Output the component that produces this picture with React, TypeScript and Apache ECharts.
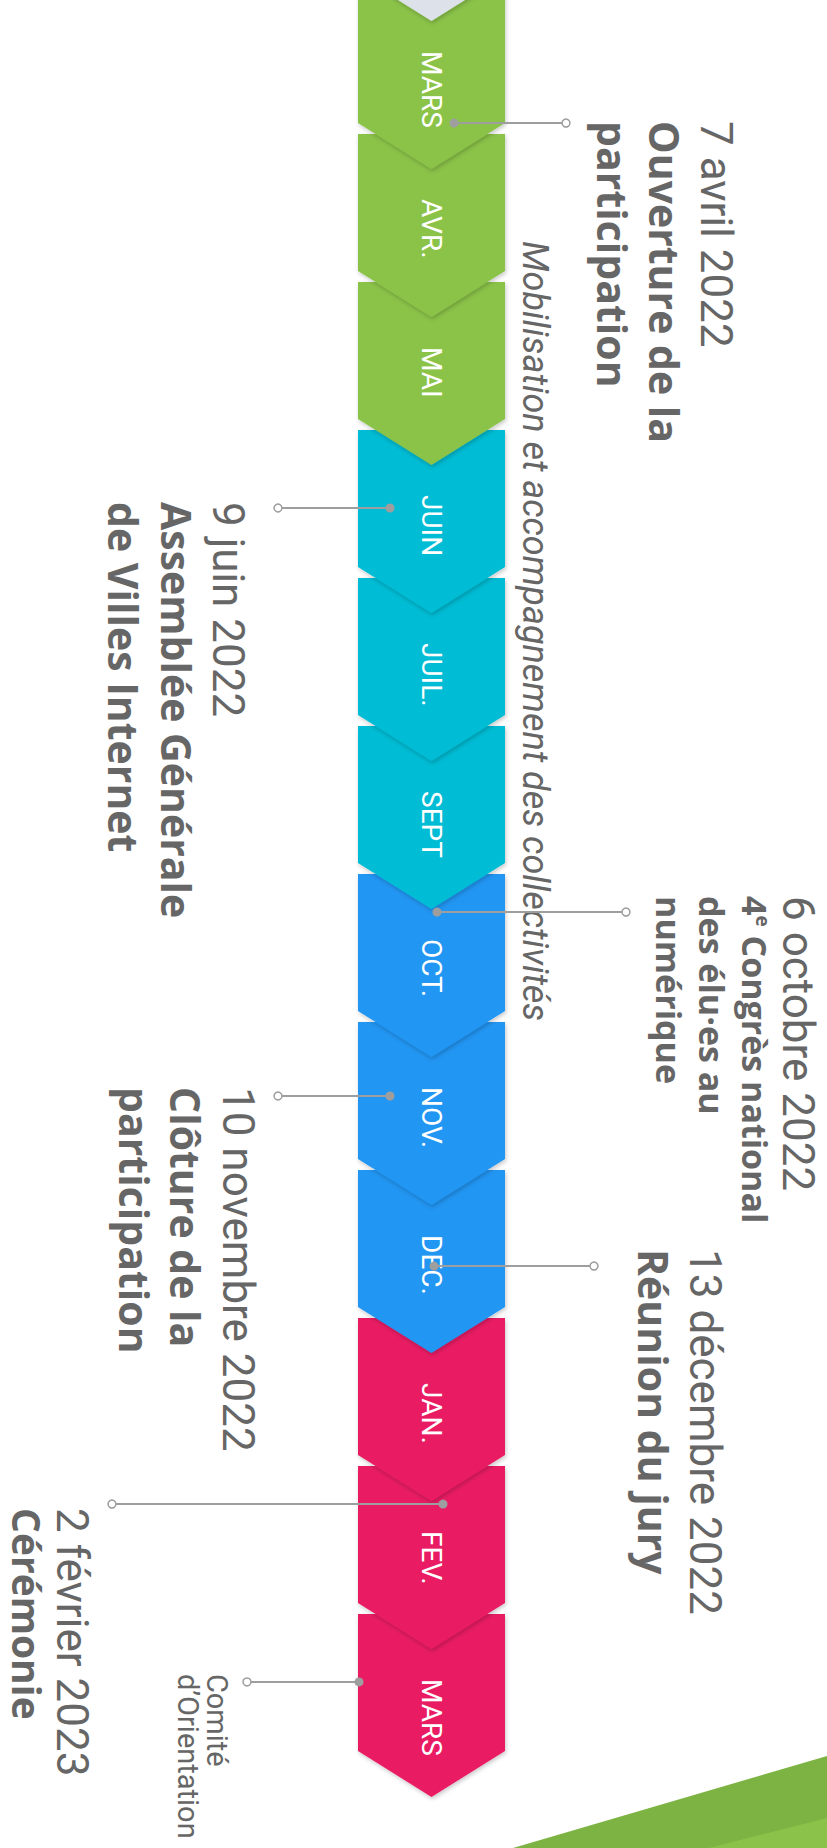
import React, { useEffect, useRef } from 'react';
import * as echarts from 'echarts';

// ---------- data ----------
const monthLabels = ['', 'MARS', 'AVR.', 'MAI', 'JUIN', 'JUIL.', 'SEPT', 'OCT.', 'NOV.', 'DEC.', 'JAN.', 'FEV.', 'MARS'];
const monthIndex = [-1, 0, 1, 2, 3, 4, 5, 6, 7, 8, 9, 10, 11];
const monthPhase = [0, 1, 1, 1, 2, 2, 2, 3, 3, 3, 4, 4, 4];
const phaseColors = ['#dde2ea', '#8bc34a', '#00bcd4', '#2196f3', '#e91e63'];

const eventDates = ['7 avril 2022', '9 juin 2022', '6 octobre 2022', '10 novembre 2022', '13 décembre 2022', '2 février 2023', ''];
const eventTitles = [
  ['Ouverture de la', 'participation'],
  ['Assemblée Générale', 'de Villes Internet'],
  ['{a|4}{s|e}{a| Congrès national}', 'des élu·es au', 'numérique'],
  ['Clôture de la', 'participation'],
  ['Réunion du jury'],
  ['Cérémonie'],
  ['Comité', 'd’Orientation'],
];
const eventMonthPos = [0.926, 3.527, 6.257, 7.5, 8.649, 10.257, 11.459];

const noteText = 'Mobilisation et accompagnement des collectivités';
const noteMonthPos = 1.723;

// ---------- layout ----------
const W = 827;
const H = 1848;
const MONTH_PX = 148;
const Y_MIN = 14 / MONTH_PX;
const Y_MAX = Y_MIN + H / MONTH_PX;
const TL_CENTER = 431.5;
const TL_HALF = 73.5;
const SIDE_END = 137 / MONTH_PX;
const APEX = 183 / MONTH_PX;
const LABEL_START = 65 / MONTH_PX;
const NOTE_X = 534.5;

const eventLayout = [
  { dotX: 454, endX: 566, dateX: 716, titleX: 665, gap: 52, textDy: -2, size: 41 },
  { dotX: 390, endX: 278, dateX: 228, titleX: 177, gap: 53, textDy: -6, size: 41 },
  { dotX: 437, endX: 626, dateX: 798, titleX: 755, gap: 43, textDy: -16, size: 34 },
  { dotX: 390, endX: 278, dateX: 238, titleX: 186, gap: 51, textDy: -9, size: 41 },
  { dotX: 434, endX: 594, dateX: 705, titleX: 654, gap: 51, textDy: -17, size: 41 },
  { dotX: 443, endX: 112, dateX: 72, titleX: 27, gap: 50, textDy: 4, size: 39 },
  { dotX: 359, endX: 247, dateX: 0, titleX: 217, gap: 29, textDy: -8, size: 29, light: true },
];

const GREY = '#9e9e9e';
const TEXT = '#666666';
const BOLD_FONT = '"Open Sans", Roboto, sans-serif';
const LIGHT_FONT = 'Roboto, "Noto Sans", sans-serif';

export default function App() {
  const ref = useRef<HTMLDivElement>(null);

  useEffect(() => {
    if (!ref.current) return;
    const chart = echarts.init(ref.current, undefined, { renderer: 'svg' });

    const chevronData = monthIndex.map((m, i) => [TL_CENTER, m, monthPhase[i]]);
    const eventData = eventMonthPos.map((p, i) => [eventLayout[i].dotX, p, i]);

    const option: any = {
      animation: false,
      backgroundColor: '#ffffff',
      grid: { left: 0, right: 0, top: 0, bottom: 0, containLabel: false },
      xAxis: { type: 'value', min: 0, max: W, show: false },
      yAxis: { type: 'value', inverse: true, min: Y_MIN, max: Y_MAX, show: false },
      graphic: [
        {
          type: 'polygon',
          silent: true,
          z: 0,
          shape: { points: [[513, 1848], [827, 1756], [827, 1848]] },
          style: { fill: '#7cb342' },
        },
        {
          type: 'polygon',
          silent: true,
          z: 0,
          shape: { points: [[709, 1848], [827, 1818], [827, 1848]] },
          style: { fill: '#8bc34a' },
        },
      ],
      series: [
        {
          type: 'custom',
          silent: true,
          clip: false,
          data: chevronData,
          renderItem: (params: any, api: any) => {
            const idx = api.value(1);
            const phase = api.value(2);
            const top = api.coord([TL_CENTER, idx]);
            const cx = top[0];
            const yTop = top[1];
            const xl = api.coord([TL_CENTER - TL_HALF, idx])[0];
            const xr = api.coord([TL_CENTER + TL_HALF, idx])[0];
            const ySide = api.coord([TL_CENTER, idx + SIDE_END])[1];
            const yApex = api.coord([TL_CENTER, idx + APEX])[1];
            const yLabel = api.coord([TL_CENTER, idx + LABEL_START])[1];
            return {
              type: 'group',
              children: [
                {
                  type: 'polygon',
                  z2: 100 - idx,
                  shape: { points: [[xl, yTop], [xr, yTop], [xr, ySide], [cx, yApex], [xl, ySide]] },
                  style: {
                    fill: phaseColors[phase],
                    shadowBlur: 4,
                    shadowOffsetX: 1,
                    shadowOffsetY: 2,
                    shadowColor: 'rgba(0,0,0,0.22)',
                  },
                },
                {
                  type: 'text',
                  z2: 300,
                  x: cx,
                  y: yLabel,
                  rotation: -Math.PI / 2,
                  style: {
                    text: monthLabels[params.dataIndex],
                    fill: '#ffffff',
                    fontSize: 28,
                    fontFamily: LIGHT_FONT,
                    align: 'left',
                    verticalAlign: 'middle',
                  },
                },
              ],
            };
          },
        },
        {
          type: 'custom',
          silent: true,
          clip: false,
          data: [[NOTE_X, noteMonthPos]],
          renderItem: (params: any, api: any) => {
            const p = api.coord([api.value(0), api.value(1)]);
            return {
              type: 'text',
              z2: 350,
              x: p[0],
              y: p[1],
              rotation: -Math.PI / 2,
              style: {
                text: noteText,
                fill: TEXT,
                fontSize: 36,
                fontStyle: 'italic',
                fontWeight: 'normal',
                fontFamily: LIGHT_FONT,
                align: 'left',
                verticalAlign: 'middle',
              },
            };
          },
        },
        {
          type: 'custom',
          silent: true,
          clip: false,
          data: eventData,
          renderItem: (params: any, api: any) => {
            const i = params.dataIndex;
            const L: any = eventLayout[i];
            const pos = api.value(1);
            const d = api.coord([L.dotX, pos]);
            const e = api.coord([L.endX, pos]);
            const y = d[1];
            const children: any[] = [
              {
                type: 'line',
                z2: 400,
                shape: { x1: d[0], y1: y, x2: e[0], y2: y },
                style: { stroke: GREY, lineWidth: 2 },
              },
              { type: 'circle', z2: 401, shape: { cx: d[0], cy: y, r: 4.5 }, style: { fill: GREY } },
              {
                type: 'circle',
                z2: 401,
                shape: { cx: e[0], cy: y, r: 4 },
                style: { fill: '#ffffff', stroke: GREY, lineWidth: 1.5 },
              },
            ];
            const ty = y + L.textDy;
            if (eventDates[i]) {
              children.push({
                type: 'text',
                z2: 402,
                x: api.coord([L.dateX, pos])[0],
                y: ty,
                rotation: -Math.PI / 2,
                style: {
                  text: eventDates[i],
                  fill: TEXT,
                  fontSize: 44,
                  fontWeight: 'normal',
                  fontFamily: LIGHT_FONT,
                  align: 'left',
                  verticalAlign: 'middle',
                },
              });
            }
            eventTitles[i].forEach((line, k) => {
              const base = L.light
                ? { fontSize: L.size, fontWeight: 'normal', fontFamily: LIGHT_FONT, fill: TEXT }
                : { fontSize: L.size, fontWeight: 'bold', fontFamily: BOLD_FONT, fill: TEXT };
              children.push({
                type: 'text',
                z2: 402,
                x: api.coord([L.titleX - k * L.gap, pos])[0],
                y: ty,
                rotation: -Math.PI / 2,
                style: {
                  text: line,
                  ...base,
                  align: 'left',
                  verticalAlign: 'middle',
                  rich: {
                    a: { ...base },
                    s: {
                      fontSize: Math.round(L.size * 0.55),
                      fontWeight: 'bold',
                      fontFamily: BOLD_FONT,
                      fill: TEXT,
                      verticalAlign: 'top',
                    },
                  },
                },
              });
            });
            return { type: 'group', children };
          },
        },
      ],
    };

    chart.setOption(option);
    return () => chart.dispose();
  }, []);

  return (
    <div
      ref={ref}
      style={{ position: 'absolute', left: 0, top: 0, width: W, height: H, background: '#ffffff' }}
    />
  );
}
